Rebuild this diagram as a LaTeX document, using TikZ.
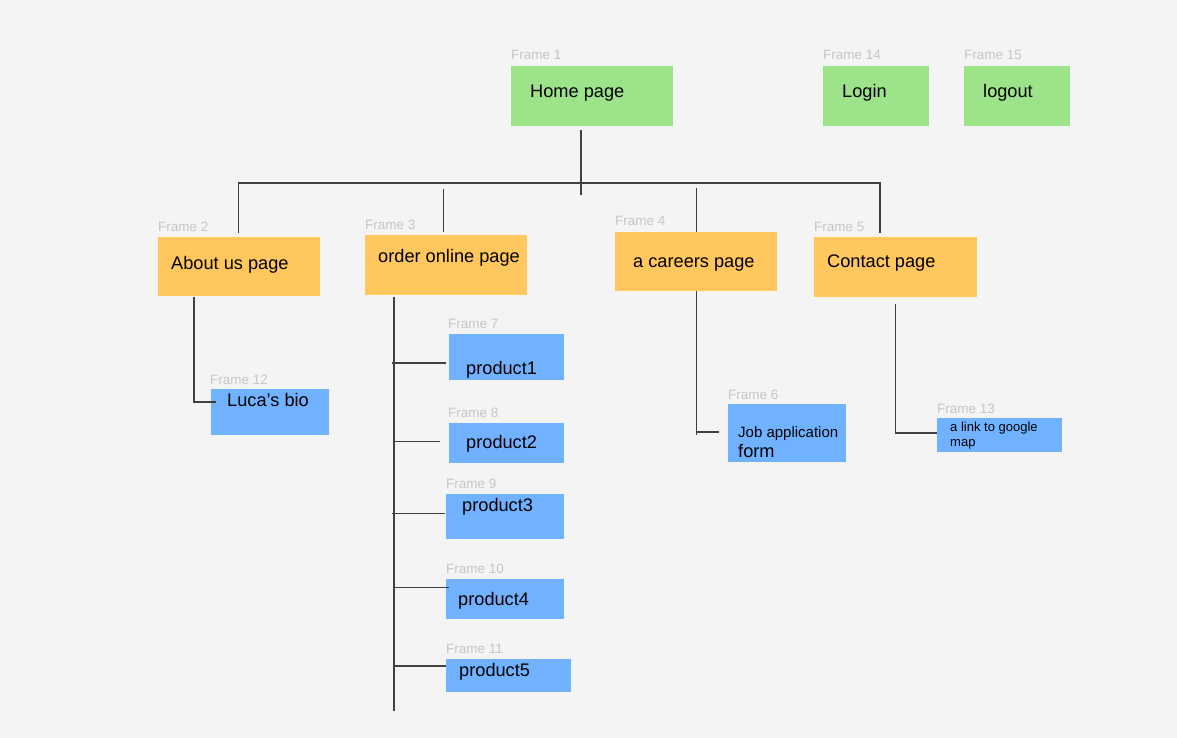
\documentclass[tikz,border=0pt]{standalone}
\usepackage{fontspec}
\setmainfont{Liberation Sans}
\usetikzlibrary{calc}

\definecolor{canvas}{HTML}{F4F4F4}
\definecolor{pagegreen}{HTML}{9CE38A}
\definecolor{pageorange}{HTML}{FFC75E}
\definecolor{pageblue}{HTML}{70B2FF}
\definecolor{framegray}{HTML}{C6C6C6}
\definecolor{wirecol}{HTML}{404040}

\tikzset{
  pagebox/.style={draw=none, anchor=north west, inner sep=0pt, outer sep=0pt},
  greenbox/.style={pagebox, fill=pagegreen},
  orangebox/.style={pagebox, fill=pageorange},
  bluebox/.style={pagebox, fill=pageblue},
  title/.style={anchor=base west, inner sep=0pt, text=black, font=\fontsize{18.2}{18}\selectfont},
  smalltitle/.style={anchor=base west, inner sep=0pt, text=black, font=\fontsize{15}{15}\selectfont},
  tinytitle/.style={anchor=base west, inner sep=0pt, text=black, font=\fontsize{13}{13}\selectfont},
  framelabel/.style={anchor=base west, inner sep=0pt, text=framegray, font=\fontsize{13.5}{13.5}\selectfont},
  wire/.style={draw=wirecol, line width=1.1pt}
}

\begin{document}
\begin{tikzpicture}[x=1pt, y=-1pt]
  % canvas
  \fill[canvas] (0,0) rectangle (1177,738);
  \useasboundingbox (0,0) rectangle (1177,738);

  % ---- page frames ----
  \node[greenbox, minimum width=162pt, minimum height=60pt] (home) at (511,66) {};
  \node[greenbox, minimum width=106pt, minimum height=60pt] (login) at (823,66) {};
  \node[greenbox, minimum width=106pt, minimum height=60pt] (logout) at (964,66) {};

  \node[orangebox, minimum width=162pt, minimum height=59pt] (about) at (158,237) {};
  \node[orangebox, minimum width=162pt, minimum height=60pt] (order) at (365,235) {};
  \node[orangebox, minimum width=162pt, minimum height=59pt] (careers) at (615,232) {};
  \node[orangebox, minimum width=163pt, minimum height=60pt] (contact) at (814,237) {};

  \node[bluebox, minimum width=118pt, minimum height=46pt] (luca) at (211,389) {};
  \node[bluebox, minimum width=115pt, minimum height=46pt] (prodA) at (449,334) {};
  \node[bluebox, minimum width=115pt, minimum height=40pt] (prodB) at (449,423) {};
  \node[bluebox, minimum width=118pt, minimum height=45pt] (prodC) at (446,494) {};
  \node[bluebox, minimum width=118pt, minimum height=40pt] (prodD) at (446,579) {};
  \node[bluebox, minimum width=125pt, minimum height=33pt] (prodE) at (446,659) {};
  \node[bluebox, minimum width=118pt, minimum height=58pt] (job) at (728,404) {};
  \node[bluebox, minimum width=125pt, minimum height=34pt] (maplink) at (937,418) {};

  % ---- frame captions ----
  \node[framelabel] (f1) at (511,60) {Frame 1};
  \node[framelabel] (f14) at (823,60) {Frame 14};
  \node[framelabel] (f15) at (964,60) {Frame 15};
  \node[framelabel] (f2) at (158,231.5) {Frame 2};
  \node[framelabel] (f3) at (365,229) {Frame 3};
  \node[framelabel] (f4) at (615,225) {Frame 4};
  \node[framelabel] (f5) at (814,231) {Frame 5};
  \node[framelabel] (f12) at (210,384) {Frame 12};
  \node[framelabel] (f7) at (448,328.5) {Frame 7};
  \node[framelabel] (f8) at (448,417.5) {Frame 8};
  \node[framelabel] (f9) at (446,488.5) {Frame 9};
  \node[framelabel] (f10) at (446,573.5) {Frame 10};
  \node[framelabel] (f11) at (446,653.5) {Frame 11};
  \node[framelabel] (f6) at (728,399.5) {Frame 6};
  \node[framelabel] (f13) at (937,413.5) {Frame 13};

  % ---- page titles ----
  \node[title] (tHome) at (530,97.5) {Home page};
  \node[title] (tLogin) at (842,97.5) {Login};
  \node[title] (tLogout) at (983,97.5) {logout};
  \node[title] (tAbout) at (171,269) {About us page};
  \node[title] (tOrder) at (378,262) {order online page};
  \node[title] (tCareers) at (633,267) {a careers page};
  \node[title] (tContact) at (827,267) {Contact page};
  \node[title] (tLuca) at (227,406.5) {Luca’s bio};
  \node[title] (tA) at (466,374) {product1};
  \node[title] (tB) at (466,448) {product2};
  \node[title] (tC) at (462,511) {product3};
  \node[title] (tD) at (458,605) {product4};
  \node[title] (tE) at (459,676) {product5};
  \node[smalltitle] (tJob) at (738,437) {Job application};
  \node[title] (tForm) at (738,457) {form};
  \node[tinytitle] (tMapA) at (950,431) {a link to google};
  \node[tinytitle] (tMapB) at (950,446) {map};

  % ---- junction points ----
  \coordinate (homeDown) at (581,130);
  \coordinate (homeEnd) at (581,195);
  \coordinate (busL) at (238.5,183);
  \coordinate (busR) at (880,183);
  \coordinate (aboutIn) at (238.5,233);
  \coordinate (orderTop) at (443.5,189);
  \coordinate (orderIn) at (443.5,232);
  \coordinate (careersTop) at (696.5,188);
  \coordinate (careersIn) at (696.5,232);
  \coordinate (contactIn) at (880,233);

  \coordinate (aboutOut) at (194,297);
  \coordinate (lucaCorner) at (194,402);
  \coordinate (lucaIn) at (216,402);

  \coordinate (trunkTop) at (394,297);
  \coordinate (trunkEnd) at (394,711);
  \coordinate (inA) at (446,363);
  \coordinate (inB) at (440,441.5);
  \coordinate (inC) at (444.5,513.5);
  \coordinate (inD) at (449,587.5);
  \coordinate (inE) at (445.5,666);

  \coordinate (careersOut) at (696.5,291);
  \coordinate (careersEnd) at (696.5,435);
  \coordinate (jobCorner) at (695.5,432);
  \coordinate (jobIn) at (718.5,432);

  \coordinate (contactOut) at (895.5,304);
  \coordinate (mapCorner) at (895.5,433);
  \coordinate (mapIn) at (937,433);

  % ---- connectors ----
  \draw[wire] (homeDown) -- (homeEnd);
  \draw[wire] (aboutIn) -- (busL) -- (busR) -- (contactIn);
  \draw[wire] (orderTop) -- (orderIn);
  \draw[wire] (careersTop) -- (careersIn);

  \draw[wire] (aboutOut) -- (lucaCorner) -- (lucaIn);

  \draw[wire] (trunkTop) -- (trunkEnd);
  \draw[wire] (inA -| trunkTop) ++(-2,0) -- (inA);
  \draw[wire] (inB -| trunkTop) ++(-1,0) -- (inB);
  \draw[wire] (inC -| trunkTop) ++(-2,0) -- (inC);
  \draw[wire] (inD -| trunkTop) ++(-1,0) -- (inD);
  \draw[wire] (inE -| trunkTop) -- (inE);

  \draw[wire] (careersOut) -- (careersEnd);
  \draw[wire] (jobCorner) -- (jobIn);

  \draw[wire] (contactOut) -- (mapCorner) -- (mapIn);
\end{tikzpicture}
\end{document}
